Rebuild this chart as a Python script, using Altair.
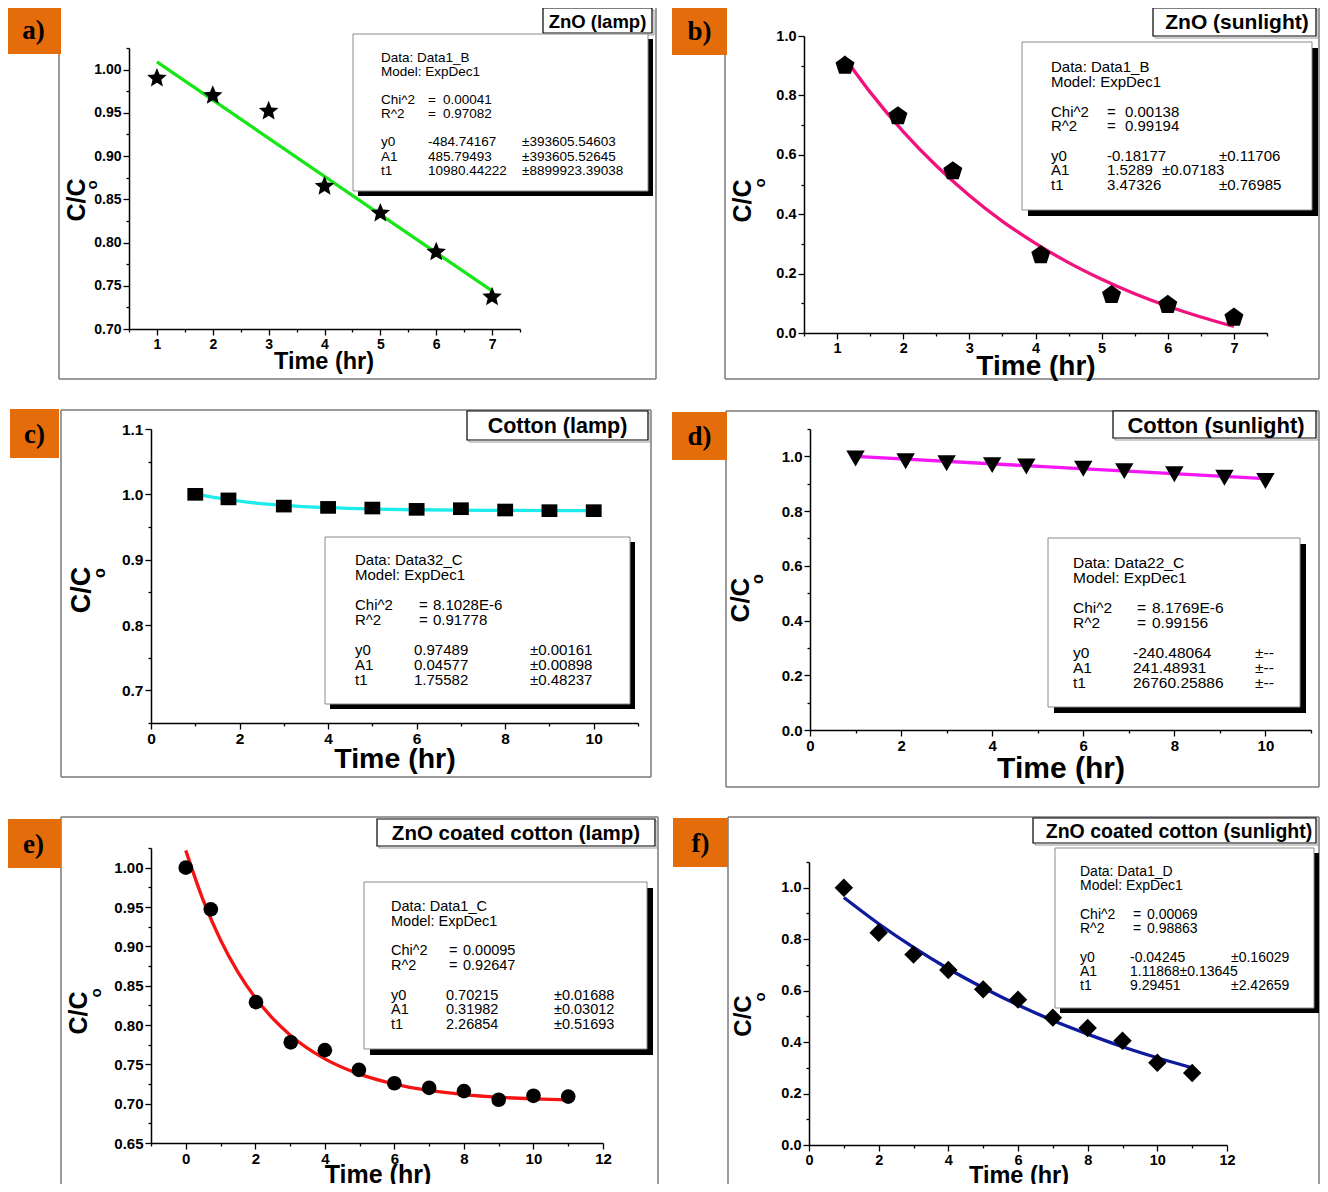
import altair as alt

FONT = "Liberation Sans"
SERIF = "Liberation Serif"

# ---------------- data ----------------
A_TIME = [1, 2, 3, 4, 5, 6, 7]
A_CC = [0.990, 0.970, 0.952, 0.865, 0.834, 0.789, 0.737]
A_FIT_TIME = [1, 7]
A_FIT_CC = [1.009, 0.744]

B_TIME = [1.12, 1.92, 2.75, 4.08, 5.15, 6.0, 7.0]
B_CC = [0.900, 0.730, 0.545, 0.262, 0.128, 0.095, 0.052]
B_FIT_TIME = [1.1, 1.5, 2.0, 2.5, 3.0, 3.5, 4.0, 4.5, 5.0, 5.5, 6.0, 6.5, 7.0]
B_FIT_CC = [0.932, 0.811, 0.678, 0.563, 0.463, 0.376, 0.302, 0.237, 0.181, 0.132, 0.090, 0.054, 0.022]

C_TIME = [1, 1.75, 3, 4, 5, 6, 7, 8, 9, 10]
C_CC = [1.000, 0.993, 0.982, 0.980, 0.979, 0.977, 0.978, 0.976, 0.975, 0.975]
C_FIT_TIME = [1, 1.5, 2, 3, 4, 5, 6, 7, 8, 10]
C_FIT_CC = [1.0008, 0.9944, 0.9895, 0.9832, 0.9796, 0.9775, 0.9764, 0.9757, 0.9754, 0.9750]

D_TIME = [1, 2.1, 3, 4, 4.75, 6, 6.9, 8, 9.1, 10]
D_CC = [0.992, 0.982, 0.975, 0.968, 0.963, 0.955, 0.946, 0.935, 0.922, 0.910]
D_FIT_TIME = [1, 10]
D_FIT_CC = [0.9997, 0.9184]

E_TIME = [0, 0.72, 2.02, 3.02, 4.0, 4.98, 6, 7, 8, 9, 10, 11]
E_CC = [1.000, 0.947, 0.829, 0.778, 0.768, 0.743, 0.726, 0.720, 0.716, 0.705, 0.710, 0.709]
E_FIT_TIME = [0, 0.5, 1, 1.5, 2, 2.5, 3, 4, 5, 6, 7, 8, 9, 10, 11]
E_FIT_CC = [1.022, 0.9587, 0.9080, 0.8672, 0.8346, 0.8084, 0.7874, 0.7570, 0.7375,
            0.7249, 0.7168, 0.7116, 0.7082, 0.7061, 0.7047]

F_TIME = [1, 2, 3, 4, 5, 6, 7, 8, 9, 10, 11]
F_CC = [1.000, 0.825, 0.740, 0.680, 0.605, 0.565, 0.495, 0.455, 0.405, 0.320, 0.280]
F_FIT_TIME = [1, 2, 3, 4, 5, 6, 7, 8, 9, 10, 11]
F_FIT_CC = [0.962, 0.860, 0.768, 0.685, 0.611, 0.544, 0.484, 0.431, 0.382, 0.339, 0.300]

# ---------------- tick values ----------------
X_TICKS_HALF = [0.5, 1, 1.5, 2, 2.5, 3, 3.5, 4, 4.5, 5, 5.5, 6, 6.5, 7, 7.5]
X_TICKS_0_11 = [0, 1, 2, 3, 4, 5, 6, 7, 8, 9, 10, 11]
X_TICKS_M1_12 = [-1, 0, 1, 2, 3, 4, 5, 6, 7, 8, 9, 10, 11, 12]
X_TICKS_0_12 = [0, 1, 2, 3, 4, 5, 6, 7, 8, 9, 10, 11, 12]
A_Y_TICKS = [0.70, 0.725, 0.75, 0.775, 0.80, 0.825, 0.85, 0.875, 0.90, 0.925, 0.95, 0.975, 1.00, 1.025]
B_Y_TICKS = [0.0, 0.1, 0.2, 0.3, 0.4, 0.5, 0.6, 0.7, 0.8, 0.9, 1.0]
C_Y_TICKS = [0.65, 0.70, 0.75, 0.80, 0.85, 0.90, 0.95, 1.00, 1.05, 1.10]
D_Y_TICKS = [0.0, 0.1, 0.2, 0.3, 0.4, 0.5, 0.6, 0.7, 0.8, 0.9, 1.0, 1.1]
E_Y_TICKS = [0.65, 0.675, 0.70, 0.725, 0.75, 0.775, 0.80, 0.825, 0.85, 0.875, 0.90,
             0.925, 0.95, 0.975, 1.00, 1.025]
F_Y_TICKS = [0.0, 0.1, 0.2, 0.3, 0.4, 0.5, 0.6, 0.7, 0.8, 0.9, 1.0, 1.1]

# ---------------- texts ----------------
STAT_LABELS = ["Chi^2", "R^2", "y0", "A1", "t1"]
A_STAT = ["Data1_B", "0.00041", "0.97082", ["-484.74167", "485.79493", "10980.44222"],
          ["±393605.54603", "±393605.52645", "±8899923.39038"]]
B_STAT = ["Data1_B", "0.00138", "0.99194", ["-0.18177", "1.5289", "3.47326"],
          ["±0.11706", "±0.07183", "±0.76985"]]
C_STAT = ["Data32_C", "8.1028E-6", "0.91778", ["0.97489", "0.04577", "1.75582"],
          ["±0.00161", "±0.00898", "±0.48237"]]
D_STAT = ["Data22_C", "8.1769E-6", "0.99156", ["-240.48064", "241.48931", "26760.25886"],
          ["±--", "±--", "±--"]]
E_STAT = ["Data1_C", "0.00095", "0.92647", ["0.70215", "0.31982", "2.26854"],
          ["±0.01688", "±0.03012", "±0.51693"]]
F_STAT = ["Data1_D", "0.00069", "0.98863", ["-0.04245", "1.11868±0.13645", "9.29451"],
          ["±0.16029", "", "±2.42659"]]

TITLES = ["ZnO (lamp)", "ZnO (sunlight)", "Cotton (lamp)", "Cotton (sunlight)",
          "ZnO coated cotton (lamp)", "ZnO coated cotton (sunlight)"]
LETTERS = ["a)", "b)", "c)", "d)", "e)", "f)"]
X_TITLE = "Time (hr)"

STAR = ("M0,-1L0.265,-0.364L0.951,-0.309L0.428,0.139L0.588,0.809L0,0.45L-0.588,0.809"
        "L-0.428,0.139L-0.951,-0.309L-0.265,-0.364Z")
PENT = "M0,-1L0.951,-0.309L0.588,0.809L-0.588,0.809L-0.951,-0.309Z"
RECT = "M-1,-0.8L1,-0.8L1,0.8L-1,0.8Z"

ORANGE = "#E46C0A"
ONE = [{"k": 0}]

# whole view: page coords minus the 8px page margin; must fit 1312 x 1176
M = 8
VIEW_W = 1312
VIEW_H = 1176
XMAX = 1319  # right-most page x that is still drawn

# ---------------- layout (page pixel coordinates) ----------------
# xt_pos = (centre x, y, size, baseline)
PANELS = [
    dict(t=A_TIME, c=A_CC, ft=A_FIT_TIME, fc=A_FIT_CC, stat=A_STAT, color="#19E619",
         shape=STAR, msize=420, ox=129, oy=48, w=391, h=281,
         xdom=[0.5, 7.5], ydom=[0.70, 1.025], xt=X_TICKS_HALF, yt=A_Y_TICKS,
         xstep=1, ystep=0.05, yfmt=".2f", lsize=14,
         frame=(59, 6, 656, 379, True), orange=(6, 6, 61, 54),
         tbox=(543, 8, 652, 33), tsize=18.5, sbox=(353, 34, 648, 191), sh=5,
         stx=381, sty=57, slh=14.1, seq=428, sval=443, spar=428, serr=522, a1err=None, ssize=13.5,
         yt_pos=(77, 200, 25), o_pos=(92, 185, 15), xt_pos=(324, 362, 23.5, "middle")),
    dict(t=B_TIME, c=B_CC, ft=B_FIT_TIME, fc=B_FIT_CC, stat=B_STAT, color="#F2127E",
         shape=PENT, msize=400, ox=804, oy=36, w=463, h=297,
         xdom=[0.5, 7.5], ydom=[0.0, 1.0], xt=X_TICKS_HALF, yt=B_Y_TICKS,
         xstep=1, ystep=0.2, yfmt=".1f", lsize=14.5,
         frame=(725, 7, 1323, 379, True), orange=(672, 6, 727, 55),
         tbox=(1153, 8, 1321, 36), tsize=21, sbox=(1022, 42, 1312, 210), sh=6,
         stx=1051, sty=67, slh=14.7, seq=1107, sval=1125, spar=1107, serr=1219, a1err=1162,
         ssize=15, yt_pos=(743, 201, 25), o_pos=(760, 183, 15), xt_pos=(1036, 367, 28, "middle")),
    dict(t=C_TIME, c=C_CC, ft=C_FIT_TIME, fc=C_FIT_CC, stat=C_STAT, color="#1EEBEB",
         shape=RECT, msize=250, ox=151, oy=429, w=487, h=294,
         xdom=[0, 11], ydom=[0.65, 1.10], xt=X_TICKS_0_11, yt=C_Y_TICKS,
         xstep=2, ystep=0.1, yfmt=".1f", lsize=15.5,
         frame=(61, 410, 651, 777, True), orange=(10, 409, 59, 458),
         tbox=(467, 411, 648, 440), tsize=21.5, sbox=(325, 537, 630, 704), sh=5,
         stx=355, sty=560, slh=14.9, seq=419, sval=433, spar=414, serr=530, a1err=None,
         ssize=15, yt_pos=(82, 590, 27), o_pos=(100, 573, 16), xt_pos=(395, 759, 28.5, "middle")),
    dict(t=D_TIME, c=D_CC, ft=D_FIT_TIME, fc=D_FIT_CC, stat=D_STAT, color="#F516F5",
         shape="triangle-down", msize=340, ox=810, oy=429, w=501, h=301,
         xdom=[0, 11], ydom=[0.0, 1.1], xt=X_TICKS_0_11, yt=D_Y_TICKS,
         xstep=2, ystep=0.2, yfmt=".1f", lsize=15,
         frame=(726, 411, 1321, 787, True), orange=(672, 412, 727, 460),
         tbox=(1113, 411, 1319, 438), tsize=22, sbox=(1048, 538, 1300, 707), sh=6,
         stx=1073, sty=562, slh=15.1, seq=1137, sval=1152, spar=1133, serr=1255, a1err=None,
         ssize=15.5, yt_pos=(741, 600, 26), o_pos=(758, 579, 16), xt_pos=(1061, 769, 30, "middle")),
    dict(t=E_TIME, c=E_CC, ft=E_FIT_TIME, fc=E_FIT_CC, stat=E_STAT, color="#F51414",
         shape="circle", msize=215, ox=151, oy=848, w=452, h=295,
         xdom=[-1, 12], ydom=[0.65, 1.025], xt=X_TICKS_M1_12, yt=E_Y_TICKS,
         xstep=2, ystep=0.05, yfmt=".2f", lsize=15,
         frame=(61, 817, 658, 1196, False), orange=(6, 819, 61, 868),
         tbox=(377, 819, 655, 846), tsize=20.5, sbox=(364, 882, 647, 1049), sh=6,
         stx=391, sty=906, slh=14.75, seq=449, sval=463, spar=446, serr=554, a1err=None,
         ssize=14.5, yt_pos=(79, 1013, 25), o_pos=(96, 993, 15),
         xt_pos=(378, 1183, 25, "alphabetic")),
    dict(t=F_TIME, c=F_CC, ft=F_FIT_TIME, fc=F_FIT_CC, stat=F_STAT, color="#0D1A9C",
         shape="diamond", msize=340, ox=809, oy=862, w=418, h=283,
         xdom=[0, 12], ydom=[0.0, 1.1], xt=X_TICKS_0_12, yt=F_Y_TICKS,
         xstep=2, ystep=0.2, yfmt=".1f", lsize=14.5,
         frame=(728, 817, 1327, 1196, False), orange=(673, 818, 728, 867),
         tbox=(1033, 818, 1325, 843), tsize=19.5, sbox=(1055, 848, 1314, 1008), sh=5,
         stx=1080, sty=871, slh=14.25, seq=1133, sval=1147, spar=1130, serr=1231, a1err=None,
         ssize=14, yt_pos=(744, 1016, 24), o_pos=(760, 997, 15),
         xt_pos=(1019, 1183, 23.5, "alphabetic")),
]


def px(v):
    return v - M


def rect(x1, y1, x2, y2, **kw):
    return alt.Chart(alt.Data(values=ONE)).mark_rect(**kw).encode(
        x=alt.value(px(x1)), x2=alt.value(px(x2)), y=alt.value(px(y1)), y2=alt.value(px(y2)))


def rule(x1, y1, x2, y2, **kw):
    return alt.Chart(alt.Data(values=ONE)).mark_rule(**kw).encode(
        x=alt.value(px(x1)), x2=alt.value(px(x2)), y=alt.value(px(y1)), y2=alt.value(px(y2)))


def text(x, y, s, **kw):
    return alt.Chart(alt.Data(values=ONE)).mark_text(**kw).encode(
        x=alt.value(px(x)), y=alt.value(px(y)), text=alt.value(s))


def make_axis(vals, step, fmt, size, orient, offset):
    test = f"abs(datum.value/{step} - round(datum.value/{step})) < 0.001"
    return alt.Axis(
        values=vals, title=None, grid=False, orient=orient, offset=offset,
        domainColor="black", domainWidth=1.5,
        tickColor="black", tickWidth=1.3,
        tickSize={"condition": {"test": test, "value": 6}, "value": 3},
        labelExpr=f"({test}) ? format(datum.value, '{fmt}') : ''",
        labelFont=FONT, labelFontWeight="bold", labelFontSize=size, labelColor="black",
        labelPadding=2, labelFlush=False, labelOverlap=False, labelBound=False)


def decorations(i, p):
    layers = []
    fl, ft_, fr, fb, fbot = p["frame"]
    fr = min(fr, XMAX)
    fkw = dict(color="#7a7a7a", strokeWidth=1.5)
    layers.append(rule(fl, ft_, fr, ft_, **fkw))
    layers.append(rule(fl, ft_, fl, fb, **fkw))
    layers.append(rule(fr, ft_, fr, fb, **fkw))
    if fbot:
        layers.append(rule(fl, fb, fr, fb, **fkw))
    ol, ot, orr, ob = p["orange"]
    layers.append(rect(ol, ot, orr, ob, color=ORANGE))
    layers.append(text((ol + orr) / 2, (ot + ob) / 2 + 1, LETTERS[i], font=SERIF,
                       fontWeight="bold", fontSize=27, align="center", baseline="middle",
                       color="black"))
    tl, tt, tr, tb = p["tbox"]
    tcx = (tl + tr) / 2
    tr = min(tr, XMAX - 3)
    layers.append(rect(tl + 2, tt + 2, tr + 2, tb + 2, fill="white",
                       stroke="#9a9a9a", strokeWidth=1))
    layers.append(rect(tl, tt, tr, tb, fill="white", stroke="black", strokeWidth=1.2))
    layers.append(text(tcx, (tt + tb) / 2 + 1, TITLES[i], font=FONT,
                       fontWeight="bold", fontSize=p["tsize"], align="center",
                       baseline="middle", color="black"))
    sl, st, sr, sb = p["sbox"]
    sh = p["sh"]
    layers.append(rect(sl + sh, st + sh, sr + sh, sb + sh, color="black"))
    layers.append(rect(sl, st, sr, sb, fill="white", stroke="#8a8a8a", strokeWidth=1))
    stat = p["stat"]
    ss = p["ssize"]
    lh = p["slh"]
    base = p["sty"] + 0.36 * ss
    items = [
        (0, p["stx"], "Data: " + stat[0]),
        (1, p["stx"], "Model: ExpDec1"),
        (3, p["stx"], STAT_LABELS[0]), (3, p["seq"], "="), (3, p["sval"], stat[1]),
        (4, p["stx"], STAT_LABELS[1]), (4, p["seq"], "="), (4, p["sval"], stat[2]),
    ]
    for k in range(3):
        items.append((6 + k, p["stx"], STAT_LABELS[2 + k]))
        items.append((6 + k, p["spar"], stat[3][k]))
        if stat[4][k]:
            ex = p["a1err"] if (k == 1 and p["a1err"]) else p["serr"]
            items.append((6 + k, ex, stat[4][k]))
    for line, xx, s in items:
        layers.append(text(xx, base + line * lh, s, font=FONT, fontSize=ss, align="left",
                           baseline="alphabetic", color="black"))
    yx, yy, ys = p["yt_pos"]
    layers.append(text(yx, yy, "C/C", font=FONT, fontWeight="bold", fontSize=ys,
                       angle=270, align="center", baseline="middle", color="black"))
    qx, qy, qs = p["o_pos"]
    layers.append(text(qx, qy, "o", font=FONT, fontWeight="bold", fontSize=qs,
                       angle=270, align="center", baseline="middle", color="black"))
    xx, xy, xs, xb = p["xt_pos"]
    layers.append(text(xx, xy, X_TITLE, font=FONT, fontWeight="bold", fontSize=xs,
                       align="center", baseline=xb, color="black"))
    return layers


def data_layer(p):
    x0, x1 = px(p["ox"]), px(p["ox"] + p["w"])
    y0, y1 = px(p["oy"]), px(p["oy"] + p["h"])
    xsc = alt.Scale(domain=p["xdom"], range=[x0, x1], nice=False, zero=False)
    ysc = alt.Scale(domain=p["ydom"], range=[y1, y0], nice=False, zero=False)
    xax = make_axis(p["xt"], p["xstep"], "d", p["lsize"], "bottom", -(VIEW_H - y1))
    yax = make_axis(p["yt"], p["ystep"], p["yfmt"], p["lsize"], "left", -x0)
    fit = alt.Chart(alt.Data(values=[{"t": a, "c": b} for a, b in zip(p["ft"], p["fc"])]))
    line = fit.mark_line(color=p["color"], strokeWidth=3.3, interpolate="monotone").encode(
        x=alt.X("t:Q", scale=xsc, axis=xax), y=alt.Y("c:Q", scale=ysc, axis=yax))
    pts = alt.Chart(alt.Data(values=[{"t": a, "c": b} for a, b in zip(p["t"], p["c"])]))
    marks = pts.mark_point(filled=True, shape=p["shape"], size=p["msize"], color="black",
                           opacity=1, strokeWidth=0).encode(
        x=alt.X("t:Q", scale=xsc, axis=xax), y=alt.Y("c:Q", scale=ysc, axis=yax))
    return alt.layer(line, marks)


deco = []
for i, p in enumerate(PANELS):
    deco.extend(decorations(i, p))
data_layers = [data_layer(p) for p in PANELS]

chart = alt.layer(*deco, *data_layers).resolve_scale(
    x="independent", y="independent").properties(
    width=VIEW_W, height=VIEW_H, padding=0, background="white",
    autosize=alt.AutoSizeParams(type="none")).configure_view(stroke=None)

chart.save("out.html", embed_options={"renderer": "svg", "actions": False})
